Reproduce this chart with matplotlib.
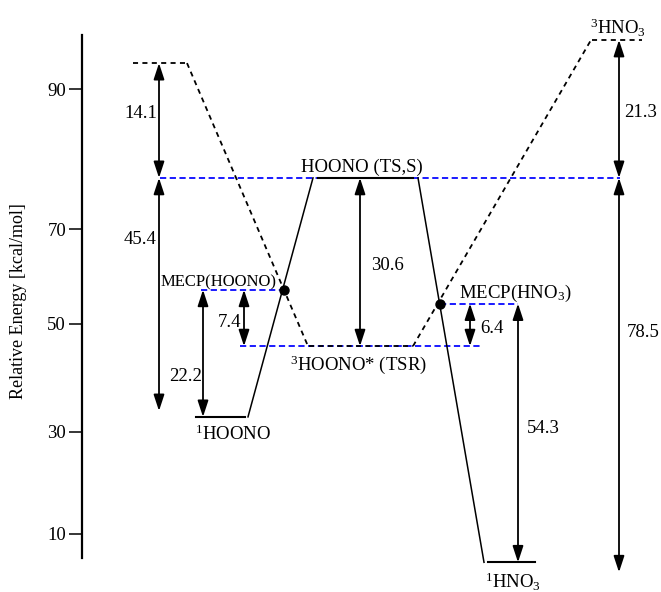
import numpy as np
import matplotlib
matplotlib.use("Agg")
import matplotlib.pyplot as plt
from matplotlib.patches import ArrowStyle
from matplotlib.ticker import NullLocator

plt.rcParams['font.family'] = ['Liberation Serif', 'DejaVu Serif']
plt.rcParams['mathtext.fontset'] = 'custom'
plt.rcParams['mathtext.rm'] = 'Liberation Serif'
plt.rcParams['mathtext.it'] = 'Liberation Serif:italic'
plt.rcParams['mathtext.bf'] = 'Liberation Serif:bold'

# ---------------- data (values on the schematic, non-uniform energy axis) -------------
tick_values = [10, 30, 50, 70, 90]
tick_labels = ['10', '30', '50', '70', '90']

level_names = ['1HOONO', 'MECP_HOONO', '3HOONO_TSR', 'TS_S', '3HOONO_top',
               'MECP_HNO3', '1HNO3', '3HNO3']
level_energy = [32.8, 57.2, 45.9, 77.3, 93.7, 54.3, 4.45, 97.0]
E = dict(zip(level_names, level_energy))

gap_labels = ['14.1', '45.4', '22.2', '7.4', '30.6', '6.4', '54.3', '21.3', '78.5']
arrow_45_bottom = 33.9     # 45.4 arrow ends slightly above 1HOONO
arrow_785_bottom = 2.5     # 78.5 arrow ends below 1HNO3

# ---------------- axis layout (piecewise scale reproducing tick spacing) -------------
W, H = 661, 592
knot_v = np.array([-40.0, 10, 30, 50, 70, 90, 140])
knot_p = np.array([534 + 50 * 5.1, 534, 432, 324, 229, 89, 89 - 50 * 7.0])


def fwd(v):
    return -np.interp(v, knot_v, knot_p)


def inv(u):
    return np.interp(-np.asarray(u, dtype=float), knot_p[::-1], knot_v[::-1])


def py(p):
    """value on the axis at picture row p (layout helper for text placement)"""
    return float(inv(-p))


fig = plt.figure(figsize=(W / 100, H / 100), dpi=100)
ax = fig.add_axes([0, 0, 1, 1])
ax.set_yscale('function', functions=(fwd, inv))
ax.set_xlim(0, W)
ax.set_ylim(py(H), py(0))
ax.patch.set_alpha(0)

for s in ['top', 'right', 'bottom']:
    ax.spines[s].set_visible(False)
ax.spines['left'].set_position(('data', 82))
ax.spines['left'].set_bounds(py(558), py(35))
ax.spines['left'].set_linewidth(1.6)
ax.set_xticks([])
ax.set_yticks(tick_values)
ax.set_yticklabels(tick_labels)
ax.yaxis.set_minor_locator(NullLocator())
ax.tick_params(axis='y', direction='out', length=9.5, width=1.1, pad=2,
               labelsize=13.5)
ax.set_ylabel('Relative Energy [kcal/mol]', fontsize=13)
ax.yaxis.label.set_va('center')
ax.yaxis.set_label_coords(19 / W, 1 - 301 / H)

blue = '#1a1aff'
blue_kw = dict(color=blue, lw=1.4, dashes=(3.2, 1.8), zorder=2)
bdash_kw = dict(color='black', lw=1.3, dashes=(2.8, 2.4), zorder=3)
solid_kw = dict(color='black', lw=1.1, zorder=3)
level_kw = dict(color='black', lw=1.5, zorder=4)

# blue dashed reference levels
ax.plot([160, 620], [E['TS_S']] * 2, **blue_kw)
ax.plot([201, 283], [E['MECP_HOONO']] * 2, **blue_kw)
ax.plot([240, 481], [E['3HOONO_TSR']] * 2, **blue_kw)
ax.plot([440, 518], [E['MECP_HNO3']] * 2, **blue_kw)

# singlet surface (solid)
ax.plot([318, 413], [E['TS_S']] * 2, **level_kw)
ax.plot([196, 245], [E['1HOONO']] * 2, **level_kw)
ax.plot([488, 535], [E['1HNO3']] * 2, **level_kw)
ax.plot([248, 313], [E['1HOONO'], E['TS_S']], **solid_kw)
ax.plot([418, 484], [E['TS_S'], E['1HNO3']], **solid_kw)

# triplet surface (dashed)
ax.plot([133, 186], [E['3HOONO_top']] * 2, **bdash_kw)
ax.plot([592, 642], [E['3HNO3']] * 2, **bdash_kw)
ax.plot([309, 413], [E['3HOONO_TSR']] * 2, **bdash_kw)
ax.plot([187, 308], [E['3HOONO_top'], E['3HOONO_TSR']], **bdash_kw)
ax.plot([413, 591], [E['3HOONO_TSR'], E['3HNO3']], **bdash_kw)

# MECP points
ax.plot([284, 440], [E['MECP_HOONO'], E['MECP_HNO3']], 'o', color='black',
        ms=6.5, zorder=6)

# double-headed arrows
style = ArrowStyle('<|-|>', head_length=0.7, head_width=0.23)


def darrow(x, y0, y1):
    ax.annotate('', xy=(x, y1), xytext=(x, y0),
                arrowprops=dict(arrowstyle=style, mutation_scale=14, shrinkA=0,
                                shrinkB=0, lw=1.3, color='black'), zorder=5)


arrows = [
    (159, E['3HOONO_top'], E['TS_S']),
    (159, E['TS_S'], arrow_45_bottom),
    (203, E['MECP_HOONO'], E['1HOONO']),
    (244, E['MECP_HOONO'], E['3HOONO_TSR']),
    (360, E['TS_S'], E['3HOONO_TSR']),
    (470, E['MECP_HNO3'], E['3HOONO_TSR']),
    (518, E['MECP_HNO3'], E['1HNO3']),
    (619, E['3HNO3'], E['TS_S']),
    (619, E['TS_S'], arrow_785_bottom),
]
for x, a, b in arrows:
    darrow(x, a, b)

# gap value labels (x, baseline row, alignment)
gap_pos = [(157, 118, 'right'), (156, 244, 'right'), (202, 381, 'right'),
           (241, 327, 'right'), (371, 270, 'left'), (480, 333, 'left'),
           (527, 433, 'left'), (624, 117, 'left'), (627, 337, 'left')]
for lab, (x, b, ha) in zip(gap_labels, gap_pos):
    ax.text(x, py(b), lab, ha=ha, va='baseline', fontsize=13.5, zorder=7)

# species labels
species = [
    ('HOONO (TS,S)', 362, 172, 'center', 13.5),
    ('MECP(HOONO)', 161, 286, 'left', 12),
    (r'$^{3}$HOONO* (TSR)', 290, 370, 'left', 13.5),
    (r'$^{1}$HOONO', 195, 440, 'left', 13.5),
    (r'MECP(HNO$_{3}$)', 459, 298, 'left', 13.5),
    (r'$^{1}$HNO$_{3}$', 485, 588, 'left', 13.5),
    (r'$^{3}$HNO$_{3}$', 590, 34, 'left', 13.5),
]
for lab, x, b, ha, fs in species:
    ax.text(x, py(b), lab, ha=ha, va='baseline', fontsize=fs, zorder=7)

fig.savefig('out.png', dpi=100)
